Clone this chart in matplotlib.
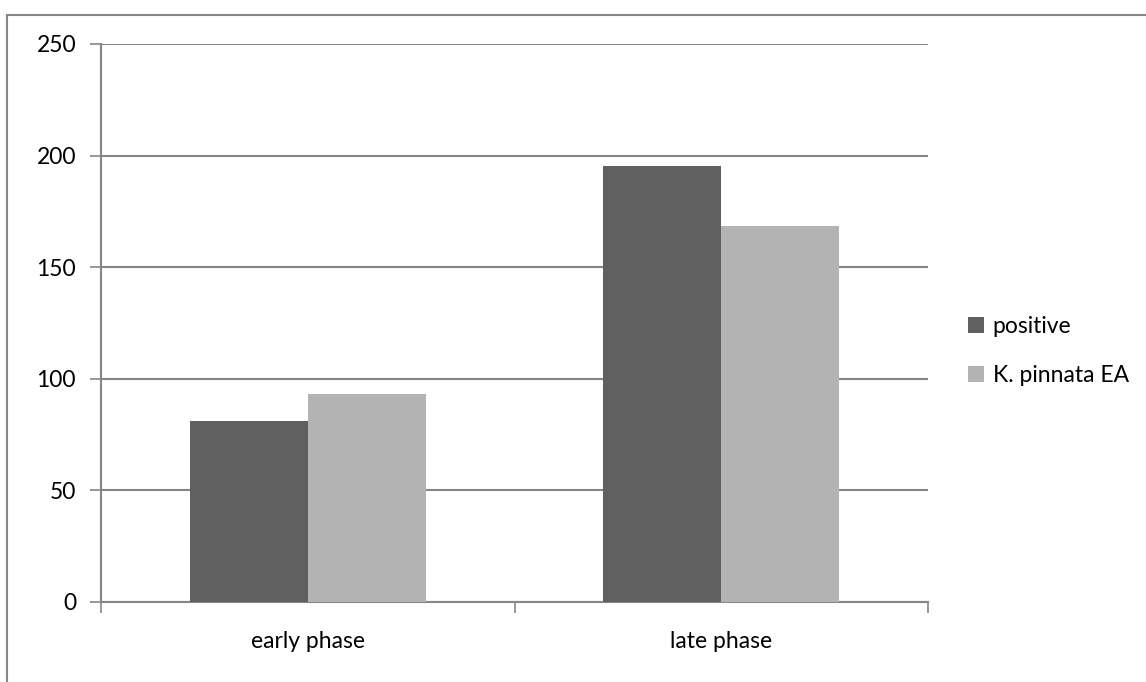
import matplotlib as mpl
mpl.use('Agg')
from matplotlib import pyplot as plt
from matplotlib.patches import Rectangle, Patch
import numpy as np

categories = ['early phase', 'late phase']
positive = [81, 195.3]
kpinnata = [93.2, 168.5]
series_names = ['positive', 'K. pinnata EA']
colors = ['#606060', '#b3b3b3']
yticks = [0, 50, 100, 150, 200, 250]

plt.rcParams['font.family'] = ['Lato', 'DejaVu Sans']
grey = '#868686'
W, H = 1146, 682
fs = 16.5

fig = plt.figure(figsize=(W / 100, H / 100), dpi=100)
ax = fig.add_axes([101 / W, 1 - 602 / H, (928 - 101) / W, (602 - 44) / H])

# excel-style layout: gap width 150%
w = 1 / 3.5
x = np.arange(len(categories))
ax.bar(x - w / 2, positive, width=w, color=colors[0], zorder=3)
ax.bar(x + w / 2, kpinnata, width=w, color=colors[1], zorder=3)

ax.set_xlim(-0.5, len(categories) - 0.5)
ax.set_ylim(0, 250)
ax.set_yticks(yticks)
ax.yaxis.grid(True, color=grey, linewidth=1.5, zorder=0)
ax.set_axisbelow(True)

ax.set_xticks(x)
ax.set_xticklabels(categories)
ax.set_xticks(np.arange(-0.5, len(categories)), minor=True)
ax.tick_params(axis='x', which='major', length=0, pad=21, labelsize=fs)
ax.tick_params(axis='x', which='minor', length=8, width=1.2, color=grey, direction='out')
ax.tick_params(axis='y', length=8, width=1.2, color=grey, pad=10, labelsize=fs)

for s in ['top', 'right']:
    ax.spines[s].set_visible(False)
for s in ['left', 'bottom']:
    ax.spines[s].set_color(grey)
    ax.spines[s].set_linewidth(1.5)

handles = [Patch(facecolor=c, edgecolor='none') for c in colors]
fig.legend(handles, series_names, loc='center left',
           bbox_to_anchor=(968 / W, 1 - 351 / H), frameon=False,
           fontsize=fs, handlelength=0.68, handleheight=0.68,
           handletextpad=0.4, labelspacing=1.2, borderpad=0, borderaxespad=0)

# chart area border
fig.patches.append(Rectangle((7 / W, -0.1), 1.2, 1.1 - 15 / H,
                             transform=fig.transFigure, fill=False,
                             edgecolor=grey, linewidth=1.5))

fig.savefig('out.png', dpi=100)
